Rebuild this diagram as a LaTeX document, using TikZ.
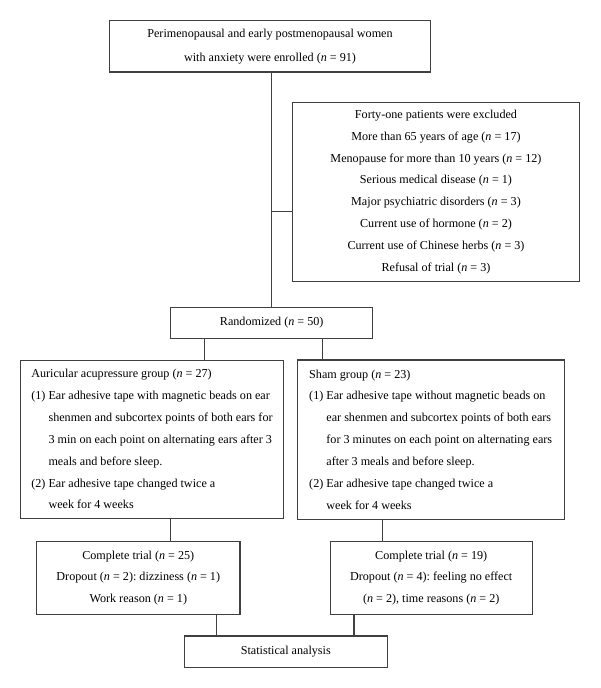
\documentclass[tikz,border=0pt]{standalone}
\usepackage{fontspec}
\setmainfont{Liberation Serif}
\frenchspacing
\tikzset{
    block/.style = {draw=black!75, line width=0.8pt, rectangle,
        inner sep=0pt, align=center, font=\fontsize{9.1}{16.4}\selectfont},
    grpblock/.style = {block, align=left},
    line/.style = {draw=black!75, line width=0.8pt}
}
\newcommand{\ncount}[1]{(\textit{n} = #1)}
\newcommand{\itemind}{\hphantom{(1)~}}

\begin{document}
\begin{tikzpicture}[x=0.75pt, y=-0.75pt]
    \useasboundingbox (0,0) rectangle (600,688);
    \node [block, minimum width=241pt, minimum height=38.3pt] (enrol) at (270,46.5)
        {Perimenopausal and early postmenopausal women\\[1.8pt]
         with anxiety were enrolled \ncount{91}};
    \node [block, minimum width=215pt, minimum height=134.5pt] (excl) at (436,192)
        {Forty-one patients were excluded\\
         More than 65 years of age \ncount{17}\\
         Menopause for more than 10 years \ncount{12}\\
         Serious medical disease \ncount{1}\\
         Major psychiatric disorders \ncount{3}\\
         Current use of hormone \ncount{2}\\
         Current use of Chinese herbs \ncount{3}\\
         Refusal of trial \ncount{3}};
    \node [block, minimum width=151.5pt, minimum height=23.3pt] (rand) at (271.7,322.8)
        {Randomized \ncount{50}};
    % the two arms
    \node [grpblock, minimum width=197pt, minimum height=118.7pt] (acu) at (152,439.2)
        {Auricular acupressure group \ncount{27}\\
         (1) Ear adhesive tape with magnetic beads on ear\\
         \itemind shenmen and subcortex points of both ears for\\
         \itemind 3 min on each point on alternating ears after 3\\
         \itemind meals and before sleep.\\
         (2) Ear adhesive tape changed twice a\\
         \itemind week for 4 weeks};
    \node [grpblock, minimum width=200pt, minimum height=119.3pt] (sham) at (430.7,439.5)
        {Sham group \ncount{23}\\
         (1) Ear adhesive tape without magnetic beads on\\
         \itemind ear shenmen and subcortex points of both ears\\
         \itemind for 3 minutes on each point on alternating ears\\
         \itemind after 3 meals and before sleep.\\
         (2) Ear adhesive tape changed twice a\\
         \itemind week for 4 weeks};
    \node [block, minimum width=152.5pt, minimum height=54.5pt] (compA) at (138.3,578)
        {Complete trial \ncount{25}\\
         Dropout \ncount{2}: dizziness \ncount{1}\\
         Work reason \ncount{1}};
    \node [block, minimum width=151.7pt, minimum height=54.5pt] (compS) at (431.2,578)
        {Complete trial \ncount{19}\\
         Dropout \ncount{4}: feeling no effect\\
         \ncount{2}, time reasons \ncount{2}};
    \node [block, minimum width=152.6pt, minimum height=23.3pt] (stat) at (285.8,651.5)
        {Statistical analysis};
    % connectors
    \draw [line] (rand.north |- enrol.south) -- (rand.north);
    \draw [line] ([yshift=-14.8pt]excl.west -| rand.north) -- ([yshift=-14.8pt]excl.west);
    \draw [line] ([xshift=-50.6pt]rand.south) -- ([xshift=-50.6pt]rand.south |- acu.north);
    \draw [line] ([xshift=37.9pt]rand.south) -- ([xshift=37.9pt]rand.south |- sham.north);
    \draw [line] ([xshift=13.9pt]acu.south) -- ([xshift=13.9pt]acu.south |- compA.north);
    \draw [line] ([xshift=-36pt]sham.south) -- ([xshift=-36pt]sham.south |- compS.north);
    \draw [line] ([xshift=58.3pt]compA.south) -- ([xshift=58.3pt]compA.south |- stat.north);
    \draw [line] ([xshift=-57.9pt]compS.south) -- ([xshift=-57.9pt]compS.south |- stat.north);
\end{tikzpicture}
\end{document}
